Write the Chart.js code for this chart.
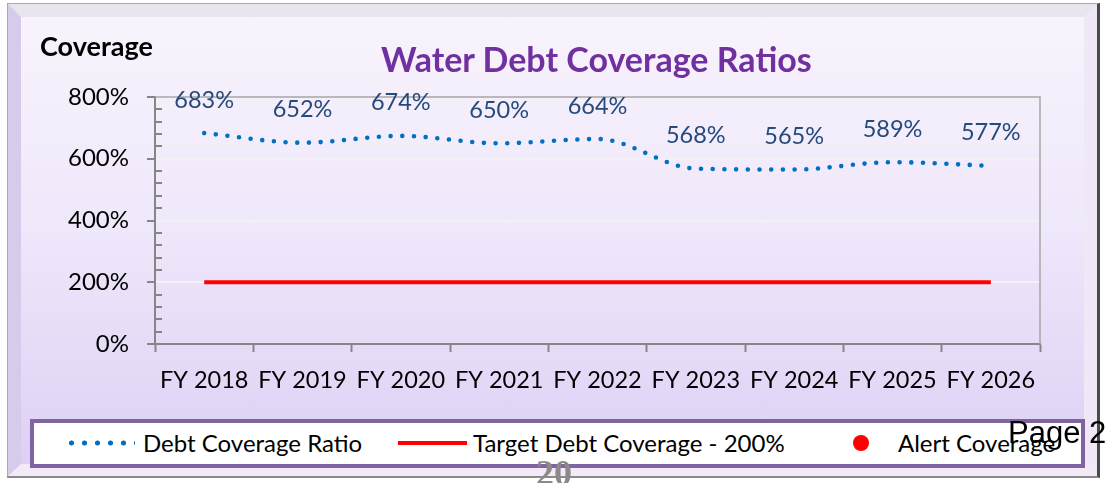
<!DOCTYPE html>
<html>
<head>
<meta charset="utf-8">
<script src="https://cdn.jsdelivr.net/npm/chart.js"></script>
<style>
  html, body { margin: 0; padding: 0; background: #fff; }
  body { width: 1107px; height: 483px; position: relative; overflow: hidden; font-family: Lato, sans-serif; }
  .frame { position: absolute; left: 7px; top: 3px; width: 1093px; height: 475px; box-sizing: border-box;
           border: 1px solid #a8a8a8; border-right: 3px solid #4a4a4a; border-bottom: 2px solid #8a8a8a; }
  .bevel { position: absolute; left: 0; top: 0; right: 0; bottom: 0; box-sizing: border-box;
           border-style: solid; border-width: 13px 13px 12px 13px;
           border-color: #e8e5ed #efe8f6 #f3e9f7 #d6cbea;
           background: linear-gradient(#f8f3fc 0%, #f0e8fb 45%, #ddd0f4 100%); }
  #wrap { position: absolute; left: 0; top: 0; width: 1107px; height: 483px; }
  .txt { position: absolute; white-space: nowrap; line-height: 1; }
  #yTitle { left: 40px; top: 32px; font-size: 27px; font-weight: bold; color: #000; }
  #title { left: 381px; top: 42px; font-size: 34px; font-weight: bold; color: #7030a0; }
  #legend { position: absolute; left: 30px; top: 419px; width: 1055px; height: 49px; box-sizing: border-box;
            border: 4px solid #8064a2; background: #fff; }
  .lgText { position: absolute; top: 8px; font-size: 24px; color: #000; white-space: nowrap; line-height: 1; }
  #page { left: 1008px; top: 417px; font-family: "Liberation Sans", Arial, sans-serif; font-size: 31px; color: #000; }
  #num { left: 536px; top: 455px; font-family: "Liberation Serif", serif; font-weight: bold; font-size: 36px; color: #8a8a8a; }
</style>
</head>
<body>
<div class="frame"><div class="bevel"></div></div>
<div id="wrap"><canvas id="chart"></canvas></div>
<div class="txt" id="yTitle">Coverage</div>
<div class="txt" id="title">Water Debt Coverage Ratios</div>
<div id="legend"></div>
<div class="txt" id="num">20</div>
<div class="txt" id="page">Page 2</div>

<script>
  // Données
  const categories = ['FY 2018', 'FY 2019', 'FY 2020', 'FY 2021', 'FY 2022', 'FY 2023', 'FY 2024', 'FY 2025', 'FY 2026'];
  const coverageRatio = [683, 652, 674, 650, 664, 568, 565, 589, 577];
  const targetCoverage = [200, 200, 200, 200, 200, 200, 200, 200, 200];
  const seriesNames = ['Debt Coverage Ratio', 'Target Debt Coverage - 200%', 'Alert Coverage'];
  const yMin = 0, yMax = 800, yStep = 200, yMinorStep = 40;

  const axisGray = '#868686';

  // Légende en HTML (positions relatives à la boîte)
  const legend = document.getElementById('legend');
  const legendItems = [
    { left: 31, marker: 'dots', textLeft: 109 },
    { left: 364, marker: 'line', textLeft: 439 },
    { left: 819, marker: 'dot', textLeft: 864 }
  ];
  legendItems.forEach((it, i) => {
    const m = document.createElement('div');
    m.style.position = 'absolute';
    if (it.marker === 'dots') {
      Object.assign(m.style, { left: it.left + 'px', top: '17px', width: '70px', height: '6px',
        background: 'radial-gradient(circle, #0070c0 2.3px, transparent 2.8px) 0 0 / 13px 6px repeat-x' });
    } else if (it.marker === 'line') {
      Object.assign(m.style, { left: it.left + 'px', top: '18px', width: '69px', height: '4px', background: '#ff0000' });
    } else {
      Object.assign(m.style, { left: it.left + 'px', top: '12px', width: '16px', height: '16px', borderRadius: '50%', background: '#ff0000' });
    }
    legend.appendChild(m);
    const t = document.createElement('div');
    t.className = 'lgText';
    t.style.left = it.textLeft + 'px';
    t.textContent = seriesNames[i];
    legend.appendChild(t);
  });

  // Cadre du graphique : bord haut et droit + graduations secondaires
  const plotBorder = {
    id: 'plotBorder',
    beforeDatasetsDraw(chart) {
      const { ctx, chartArea: a } = chart;
      ctx.save();
      ctx.strokeStyle = '#a6a6a6';
      ctx.lineWidth = 1.5;
      ctx.beginPath();
      ctx.moveTo(a.left, a.top);
      ctx.lineTo(a.right, a.top);
      ctx.lineTo(a.right, a.bottom);
      ctx.stroke();
      const y = chart.scales.y;
      ctx.strokeStyle = axisGray;
      ctx.lineWidth = 2;
      for (let v = yMin + yMinorStep; v < yMax; v += yMinorStep) {
        if (v % yStep === 0) continue;
        const py = Math.round(y.getPixelForValue(v));
        ctx.beginPath();
        ctx.moveTo(a.left, py);
        ctx.lineTo(a.left + 7, py);
        ctx.stroke();
      }
      ctx.restore();
    }
  };

  // Étiquettes des valeurs
  const valueLabels = {
    id: 'valueLabels',
    afterDatasetsDraw(chart) {
      const { ctx } = chart;
      const meta = chart.getDatasetMeta(1);
      ctx.save();
      ctx.font = '23.5px Lato';
      ctx.fillStyle = '#254a7c';
      ctx.textAlign = 'center';
      ctx.textBaseline = 'middle';
      meta.data.forEach((pt, i) => {
        ctx.fillText(coverageRatio[i] + '%', pt.x, pt.y - 33);
      });
      ctx.restore();
    }
  };

  new Chart(document.getElementById('chart'), {
    type: 'line',
    data: {
      labels: categories,
      datasets: [
        {
          label: seriesNames[1],
          data: targetCoverage,
          borderColor: '#ff0000',
          borderWidth: 4,
          pointRadius: 0,
          tension: 0
        },
        {
          label: seriesNames[0],
          data: coverageRatio,
          borderColor: '#0070c0',
          borderWidth: 4.6,
          borderDash: [0, 11.7],
          borderCapStyle: 'round',
          pointRadius: 0,
          cubicInterpolationMode: 'monotone'
        }
      ]
    },
    options: {
      responsive: true,
      maintainAspectRatio: false,
      animation: false,
      layout: { padding: { left: 0, top: 97, right: 67, bottom: 0 } },
      plugins: { legend: { display: false }, tooltip: { enabled: false } },
      scales: {
        x: {
          offset: true,
          afterFit: (s) => { s.height = 139; },
          grid: { offset: true, drawOnChartArea: false, tickLength: 8, tickColor: axisGray, tickWidth: 2 },
          border: { color: axisGray, width: 2 },
          ticks: { color: '#000', font: { family: 'Lato', size: 23.5 }, padding: 14, maxRotation: 0, autoSkip: false }
        },
        y: {
          min: yMin,
          max: yMax,
          afterFit: (s) => { s.width = 155; },
          grid: {
            color: (c) => (c.tick && (c.tick.value === yMin || c.tick.value === yMax)) ? 'rgba(0,0,0,0)' : '#f3f0f6',
            lineWidth: 2, tickLength: 8, tickColor: axisGray, tickWidth: 2
          },
          border: { color: axisGray, width: 2 },
          ticks: { stepSize: yStep, color: '#000', font: { family: 'Lato', size: 24 }, padding: 18,
                   callback: (v) => v + '%' }
        }
      }
    },
    plugins: [plotBorder, valueLabels]
  });
</script>
</body>
</html>
